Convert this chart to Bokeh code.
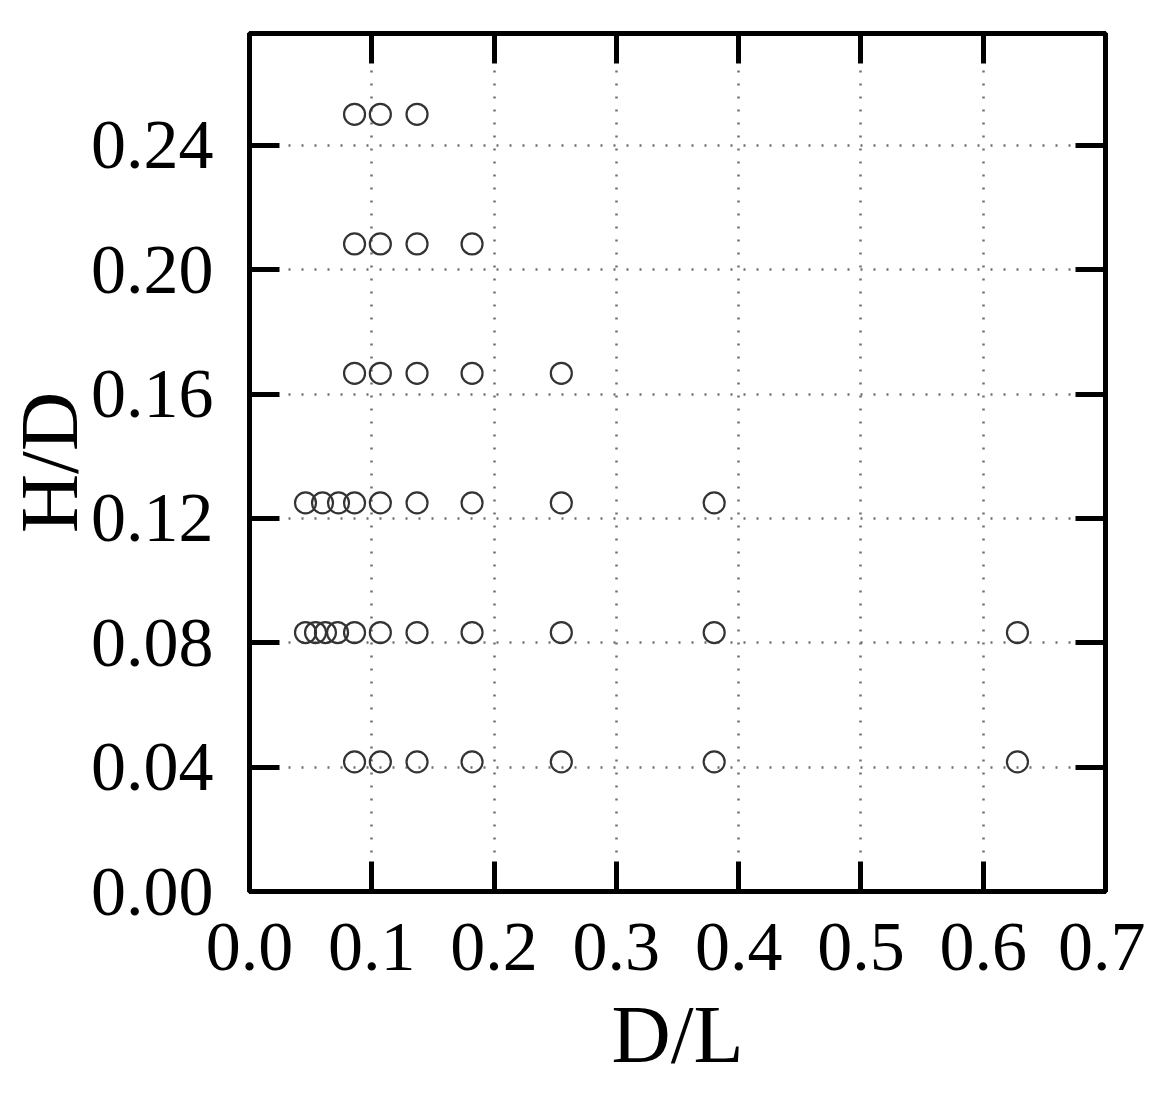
from bokeh.plotting import figure
from bokeh.models import LinearAxis, FixedTicker, Range1d, CustomJSTickFormatter
from bokeh.embed import file_html
from bokeh.resources import INLINE

# Data (D/L, H/D)
dl = [0.0859, 0.107, 0.137,
      0.0859, 0.107, 0.137, 0.182,
      0.0859, 0.107, 0.137, 0.182, 0.255,
      0.0458, 0.0597, 0.0728, 0.0859, 0.107, 0.137, 0.182, 0.255, 0.380,
      0.0458, 0.0540, 0.0621, 0.0720, 0.0859, 0.107, 0.137, 0.182, 0.255, 0.380, 0.628,
      0.0859, 0.107, 0.137, 0.182, 0.255, 0.380, 0.628]
hd = [0.25, 0.25, 0.25,
      0.2083, 0.2083, 0.2083, 0.2083,
      0.1667, 0.1667, 0.1667, 0.1667, 0.1667,
      0.125, 0.125, 0.125, 0.125, 0.125, 0.125, 0.125, 0.125, 0.125,
      0.0833, 0.0833, 0.0833, 0.0833, 0.0833, 0.0833, 0.0833, 0.0833, 0.0833, 0.0833, 0.0833,
      0.0417, 0.0417, 0.0417, 0.0417, 0.0417, 0.0417, 0.0417]
x_ticks = [0.0, 0.1, 0.2, 0.3, 0.4, 0.5, 0.6, 0.7]
y_ticks = [0.0, 0.04, 0.08, 0.12, 0.16, 0.20, 0.24]

FONT = "Liberation Serif"

p = figure(frame_width=856, frame_height=858, output_backend="svg", toolbar_location=None,
           x_range=Range1d(0, 0.7), y_range=Range1d(0, 0.276),
           x_axis_location=None, y_axis_location=None,
           min_border_left=200, min_border_top=33, min_border_right=40, min_border_bottom=10)
p.background_fill_color = "white"
p.border_fill_color = "white"
p.outline_line_color = "black"
p.outline_line_width = 5

def style_axis(ax, ticks, show_labels, label=None):
    ax.ticker = FixedTicker(ticks=ticks)
    ax.axis_line_width = 5
    ax.axis_line_color = "black"
    ax.major_tick_in = 30
    ax.major_tick_out = 0
    ax.major_tick_line_width = 5
    ax.major_tick_line_color = "black"
    ax.minor_tick_line_color = None
    ax.major_label_text_font = FONT
    if show_labels:
        ax.major_label_text_font_size = "70px"
        ax.major_label_text_color = "black"
    else:
        ax.major_label_text_font_size = "0px"
        ax.major_label_standoff = 0
        ax.major_label_text_color = None
    if label:
        ax.axis_label = label
        ax.axis_label_text_font = FONT
        ax.axis_label_text_font_size = "82px"
        ax.axis_label_text_font_style = "normal"
        ax.axis_label_text_color = "black"

xb = LinearAxis()
style_axis(xb, x_ticks, True, "D/L")
xb.major_label_standoff = 32
xb.axis_label_standoff = 16
xb.formatter = CustomJSTickFormatter(code="return tick.toFixed(1);")
p.add_layout(xb, "below")

yl = LinearAxis()
style_axis(yl, y_ticks, True, "H/D")
yl.major_label_standoff = 36
yl.axis_label_standoff = -7
yl.formatter = CustomJSTickFormatter(code="return tick.toFixed(2);")
p.add_layout(yl, "left")

xt = LinearAxis()
style_axis(xt, x_ticks, False)
p.add_layout(xt, "above")

yr = LinearAxis()
style_axis(yr, y_ticks, False)
p.add_layout(yr, "right")

p.xgrid.ticker = FixedTicker(ticks=x_ticks)
p.ygrid.ticker = FixedTicker(ticks=y_ticks)
for g in (p.xgrid, p.ygrid):
    g.grid_line_color = "#6f6f6f"
    g.grid_line_width = 2.5
    g.grid_line_dash = "2 11"

p.scatter(dl, hd, marker="circle", size=21, fill_color=None,
          line_color="#333333", line_width=2.2)

open("out.html", "w").write(file_html(p, INLINE))
